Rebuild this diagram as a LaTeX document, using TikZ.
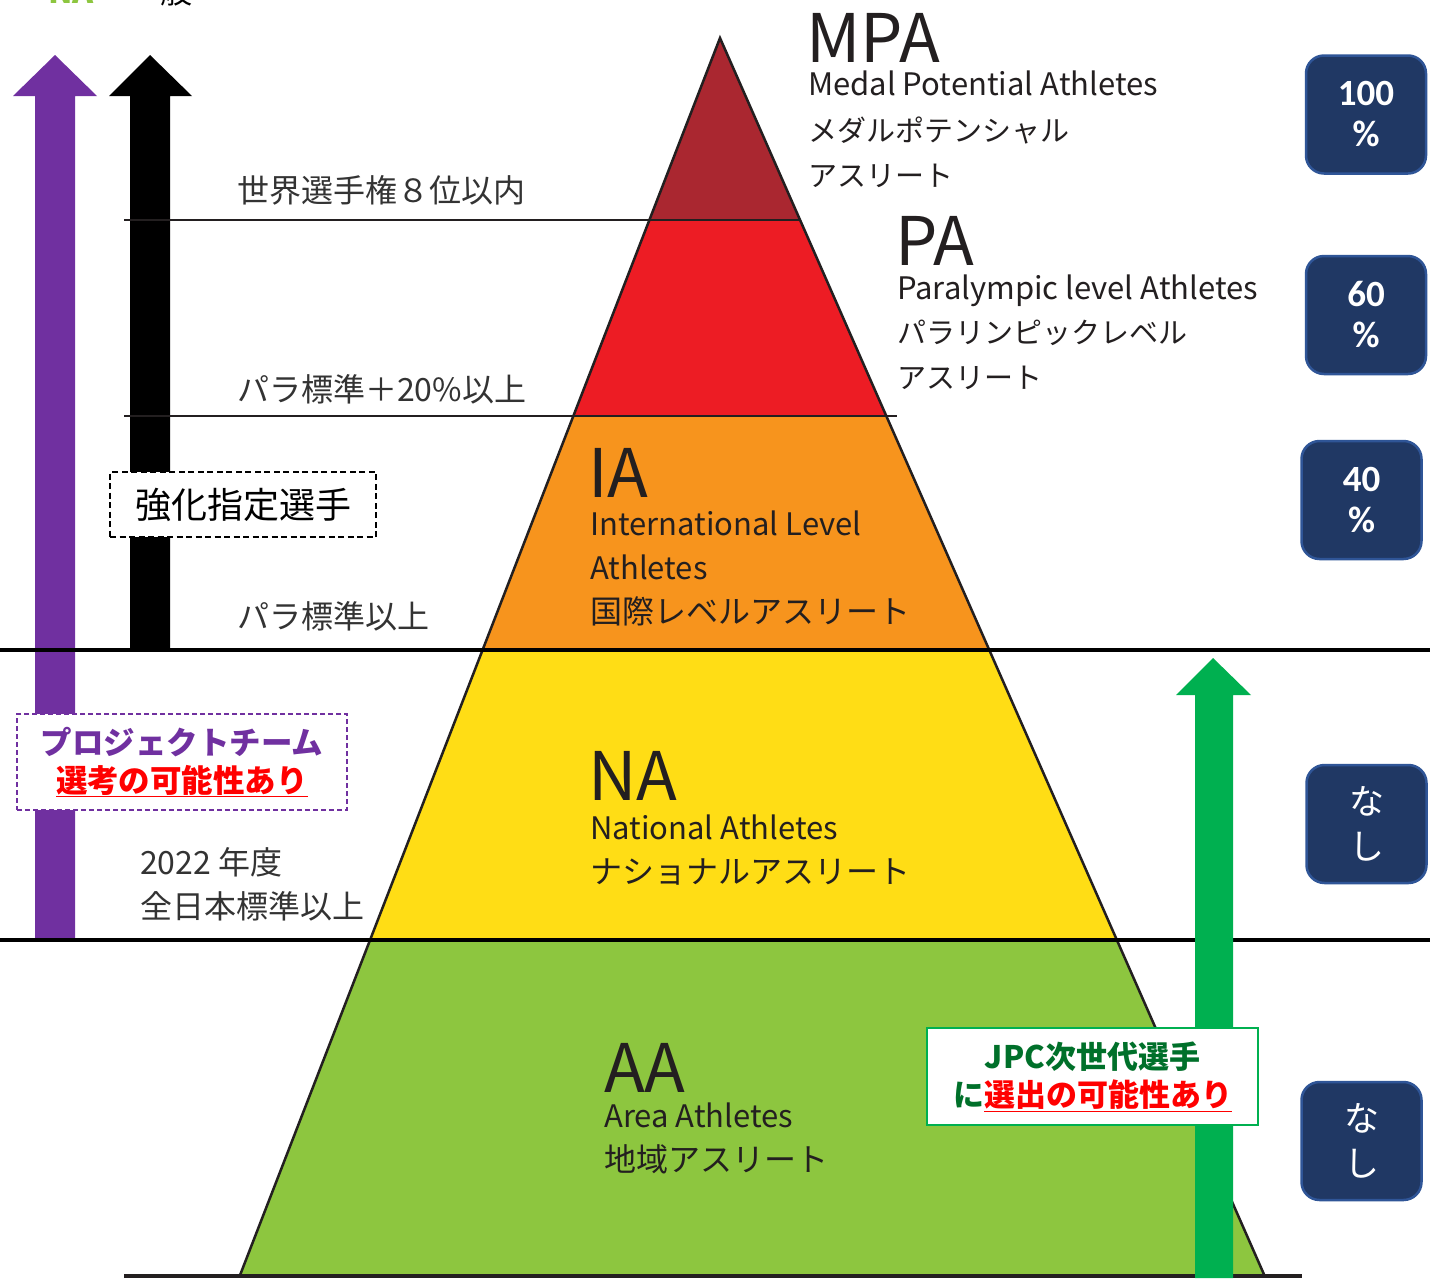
\documentclass[tikz,border=0pt]{standalone}
\usepackage{fontspec}
\setmainfont{Noto Sans CJK JP}
\newfontfamily\carlitofont{Carlito}
\definecolor{mpacol}{HTML}{AA2730}
\definecolor{pacol}{HTML}{ED1C24}
\definecolor{iacol}{HTML}{F7941D}
\definecolor{nacol}{HTML}{FFDD15}
\definecolor{aacol}{HTML}{8DC63F}
\definecolor{outl}{HTML}{231F20}
\definecolor{labelgray}{HTML}{333333}
\definecolor{purp}{HTML}{7030A0}
\definecolor{grn}{HTML}{00B050}
\definecolor{dgrn}{HTML}{00702A}
\definecolor{navy}{HTML}{203864}
\definecolor{navyedge}{HTML}{2F5597}
\newcommand{\setfs}[2]{\fontsize{#1}{#2}\selectfont}
\begin{document}
\begin{tikzpicture}[x=1pt,y=-1pt,
  lbl/.style={anchor=base west, inner sep=0pt, text=outl},
  leftlbl/.style={anchor=base west, inner sep=0pt, text=labelgray, font=\setfs{32}{32}},
  big/.style={lbl, font=\setfs{67}{67}},
  eng/.style={lbl, font=\setfs{31}{31}},
  jp/.style={lbl, font=\setfs{30}{30}},
  navybox/.style={draw=navyedge, fill=navy, line width=2.5pt, rounded corners=18pt,
     minimum width=120pt, minimum height=118pt, inner sep=0pt, text=white, align=center},
  numtxt/.style={font=\carlitofont\bfseries\setfs{37}{41}},
  natxt/.style={font=\setfs{35}{45}}
]
\useasboundingbox (0,0) rectangle (1430,1278);
\fill[white] (0,0) rectangle (1430,1278);

% text cut by the top edge, as in the reference
\begin{scope}
\clip (0,0) rectangle (1430,1278);
\node[anchor=base west, inner sep=0pt, text=aacol, font=\bfseries\setfs{32}{32}] (topna) at (48,3) {NA};
\node[anchor=base west, inner sep=0pt, text=black, font=\setfs{32}{32}] (topip) at (128,3) {一般};
\end{scope}

% pyramid coordinates
\coordinate (apex) at (720,38);
\coordinate (l1) at (649.4,220);  \coordinate (r1) at (800.1,220);
\coordinate (l2) at (573.3,416);  \coordinate (r2) at (886.3,416);
\coordinate (l3) at (482.5,650);  \coordinate (r3) at (989.3,650);
\coordinate (l4) at (370,940);    \coordinate (r4) at (1116.9,940);
\coordinate (l5) at (239.7,1276); \coordinate (r5) at (1264.7,1276);

\fill[mpacol] (apex) -- (r1) -- (l1) -- cycle;
\fill[pacol] (l1) -- (r1) -- (r2) -- (l2) -- cycle;
\fill[iacol] (l2) -- (r2) -- (r3) -- (l3) -- cycle;
\fill[nacol] (l3) -- (r3) -- (r4) -- (l4) -- cycle;
\fill[aacol] (l4) -- (r4) -- (r5) -- (l5) -- cycle;
\draw[outl, line width=2.5pt, line join=miter] (l5) -- (apex) -- (r5);

% purple and black arrows
\fill[purp] (35,940) -- (35,96) -- (13,96) -- (55,55) -- (97,96) -- (75,96) -- (75,940) -- cycle;
\fill[black] (130,650) -- (130,96) -- (109,96) -- (150,55) -- (192,96) -- (170,96) -- (170,650) -- cycle;

% horizontal lines
\coordinate (h1a) at (124,220); \coordinate (h1b) at (800,220);
\coordinate (h2a) at (124,416); \coordinate (h2b) at (897,416);
\coordinate (h3a) at (0,650);   \coordinate (h3b) at (1430,650);
\coordinate (h4a) at (0,940);   \coordinate (h4b) at (1430,940);
\coordinate (h5a) at (124,1276); \coordinate (h5b) at (1302,1276);
\draw[outl, line width=2pt] (h1a) -- (h1b);
\draw[outl, line width=2pt] (h2a) -- (h2b);
\draw[black, line width=4pt] (h3a) -- (h3b);
\draw[black, line width=4pt] (h4a) -- (h4b);
\draw[outl, line width=4pt] (h5a) -- (h5b);

% green arrow
\fill[grn] (1195,1278) -- (1195,695) -- (1176,695) -- (1213,658) -- (1251,695) -- (1233,695) -- (1233,1278) -- cycle;

% pyramid labels
\node[big] (mpa) at (806,62) {MPA};
\node[eng] (mpaen) at (808,95) {Medal Potential Athletes};
\node[jp,font=\setfs{29}{29}] (mpajp1) at (808,141) {メダルポテンシャル};
\node[jp,font=\setfs{29}{29}] (mpajp2) at (808,186) {アスリート};

\node[big] (pa) at (895,265) {PA};
\node[eng] (paen) at (897,299) {Paralympic level Athletes};
\node[jp,font=\setfs{29}{29}] (pajp1) at (897,343) {パラリンピックレベル};
\node[jp,font=\setfs{29}{29}] (pajp2) at (897,388) {アスリート};

\node[big] (ia) at (588,497) {IA};
\node[eng] (iaen1) at (590,535) {International Level};
\node[eng] (iaen2) at (590,579) {Athletes};
\node[jp,font=\setfs{32}{32}] (iajp) at (590,623) {国際レベルアスリート};

\node[big] (na) at (588,800) {NA};
\node[eng] (naen) at (590,839) {National Athletes};
\node[jp,font=\setfs{32}{32}] (najp) at (590,883) {ナショナルアスリート};

\node[big] (aa) at (604,1092) {AA};
\node[eng] (aaen) at (604,1127) {Area Athletes};
\node[jp,font=\setfs{32}{32}] (aajp) at (604,1171) {地域アスリート};

% left labels
\node[leftlbl] (w8) at (237,202) {世界選手権８位以内};
\node[leftlbl] (p20) at (237,401) {パラ標準＋20\%以上};
\node[leftlbl] (pstd) at (237,628) {パラ標準以上};
\node[leftlbl] (y2022) at (140,874) {2022 年度};
\node[leftlbl] (zen) at (140,918) {全日本標準以上};

% boxes on the arrows
\node[draw=black, dash pattern=on 6pt off 3.5pt, line width=1.5pt, fill=white, minimum width=266pt, minimum height=65pt,
      inner sep=0pt, font=\setfs{36}{36}] (kyoka) at (243,504.5) {強化指定選手};
\node[draw=purp, dash pattern=on 5pt off 3pt, line width=1.5pt, fill=white, minimum width=330pt, minimum height=96pt,
      inner sep=0pt, align=center, font=\bfseries\setfs{31.5}{38}] (proj) at (182,762)
      {\textcolor{purp}{プロジェクトチーム}\\\textcolor{red}{\underline{選考の可能性あり}}};
\node[draw=grn, line width=1.5pt, fill=white, minimum width=331pt, minimum height=97pt,
      inner sep=0pt, align=center, font=\bfseries\setfs{31}{38}, text=dgrn] (jpc) at (1092.5,1076.5)
      {JPC次世代選手\\に\textcolor{red}{\underline{選出の可能性あり}}};

% navy boxes
\node[navybox, numtxt] (b100) at (1366,114.5) {100\\\%};
\node[navybox, numtxt] (b60) at (1366,315) {60\\\%};
\node[navybox, numtxt] (b40) at (1361.5,500) {40\\\%};
\node[navybox, natxt] (bna1) at (1366.5,824) {な\\し};
\node[navybox, natxt] (bna2) at (1361.5,1141) {な\\し};
\end{tikzpicture}
\end{document}
